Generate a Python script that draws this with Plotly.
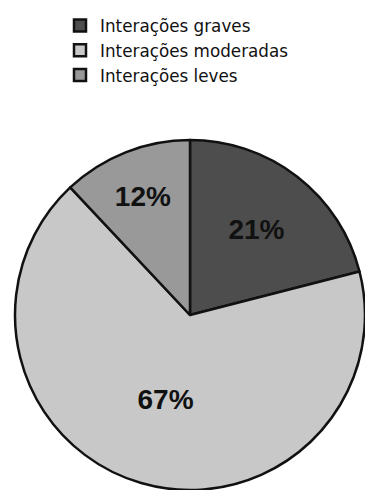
import plotly.graph_objects as go

categories = ["Interações graves", "Interações moderadas", "Interações leves"]
values = [21, 67, 12]
colors = ["#4d4d4d", "#c8c8c8", "#999999"]

W, H = 365, 490

fig = go.Figure(
    go.Pie(
        labels=categories,
        values=values,
        sort=False,
        direction="clockwise",
        rotation=0,
        marker=dict(colors=colors, line=dict(color="#111111", width=2.5)),
        texttemplate="%{percent:.0%}",
        textposition="inside",
        insidetextorientation="horizontal",
        textfont=dict(family="Liberation Sans, Arial, sans-serif", size=28,
                      color="#111111", weight="bold"),
        domain=dict(x=[15 / W, 1], y=[0, 350 / H]),
        hoverinfo="label+percent",
    )
)

fig.update_layout(
    width=W,
    height=H,
    margin=dict(l=0, r=0, t=0, b=0),
    paper_bgcolor="white",
    plot_bgcolor="white",
    font=dict(family="DejaVu Sans, sans-serif", color="#111111"),
    showlegend=True,
    legend=dict(
        x=60 / W,
        y=1 - 8 / H,
        xanchor="left",
        yanchor="top",
        font=dict(size=16.8, color="#111111", family="DejaVu Sans, sans-serif"),
        tracegroupgap=0,
        bgcolor="rgba(0,0,0,0)",
    ),
)

fig.write_html("out.html")
